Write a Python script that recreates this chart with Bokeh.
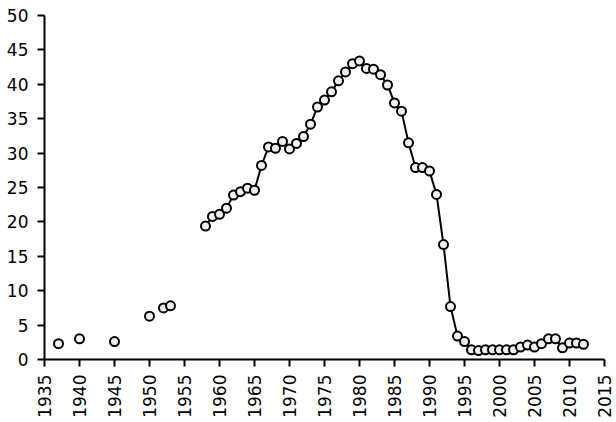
import math
import numpy as np
from bokeh.plotting import figure
from bokeh.models import FixedTicker, Range1d
from bokeh.embed import file_html
from bokeh.resources import INLINE

years = [1937, 1940, 1945, 1950, 1952, 1953,
         1958, 1959, 1960, 1961, 1962, 1963, 1964, 1965, 1966, 1967,
         1968, 1969, 1970, 1971, 1972, 1973, 1974, 1975, 1976, 1977,
         1978, 1979, 1980, 1981, 1982, 1983, 1984, 1985, 1986, 1987,
         1988, 1989, 1990, 1991, 1992, 1993, 1994, 1995, 1996, 1997,
         1998, 1999, 2000, 2001, 2002, 2003, 2004, 2005, 2006, 2007,
         2008, 2009, 2010, 2011, 2012]
values = [2.3, 3.0, 2.6, 6.3, 7.5, 7.8,
          19.4, 20.8, 21.1, 22.0, 23.9, 24.4, 24.9, 24.6, 28.2, 30.9,
          30.7, 31.7, 30.6, 31.4, 32.4, 34.2, 36.7, 37.7, 38.9, 40.5,
          41.8, 43.0, 43.4, 42.3, 42.2, 41.4, 39.9, 37.3, 36.1, 31.5,
          27.9, 27.9, 27.4, 24.0, 16.7, 7.7, 3.4, 2.6, 1.4, 1.3,
          1.4, 1.4, 1.4, 1.4, 1.4, 1.8, 2.1, 1.8, 2.3, 3.0,
          3.0, 1.7, 2.4, 2.4, 2.2]
x_ticks = list(range(1935, 2016, 5))
y_ticks = list(range(0, 51, 5))

# line connects consecutive years only (gaps break the line)
lx, ly = [], []
for i, (yr, v) in enumerate(zip(years, values)):
    if i > 0 and yr - years[i - 1] > 1:
        lx.append(np.nan)
        ly.append(np.nan)
    lx.append(yr)
    ly.append(v)

p = figure(width=614, height=420, output_backend="svg", toolbar_location=None,
           x_range=Range1d(1935, 2015), y_range=Range1d(0, 50),
           min_border_left=44, min_border_right=10, min_border_top=15,
           min_border_bottom=59)
p.outline_line_color = None
p.xgrid.grid_line_color = None
p.ygrid.grid_line_color = None

p.line(lx, ly, line_color="black", line_width=2)
p.scatter(years, values, size=9, fill_color="#f0f0f0", line_color="black",
          line_width=2)

for ax in (p.xaxis[0], p.yaxis[0]):
    ax.axis_line_color = "black"
    ax.axis_line_width = 2
    ax.major_tick_line_color = "black"
    ax.major_tick_line_width = 2
    ax.major_tick_out = 7
    ax.major_tick_in = 0
    ax.minor_tick_line_color = None
    ax.major_label_text_font = "DejaVu Sans"
    ax.major_label_text_font_size = "17px"
    ax.major_label_text_color = "black"

p.xaxis.ticker = FixedTicker(ticks=x_ticks)
p.yaxis.ticker = FixedTicker(ticks=y_ticks)
p.xaxis.major_label_orientation = math.pi / 2
p.xaxis.major_label_standoff = 8
p.yaxis.major_label_standoff = 9

open("out.html", "w").write(file_html(p, INLINE))
